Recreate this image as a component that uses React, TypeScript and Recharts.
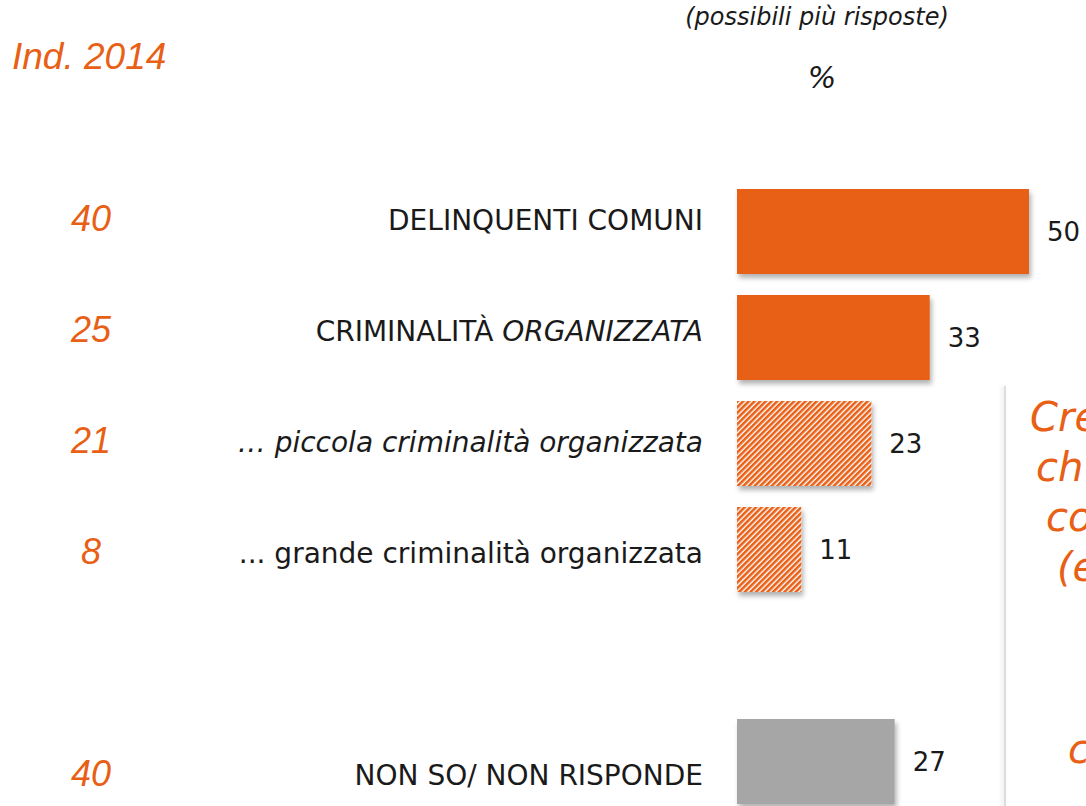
import React from 'react';
import { BarChart, Bar, XAxis, YAxis, Cell, LabelList } from 'recharts';

const categories = [
  'DELINQUENTI COMUNI',
  'CRIMINALITÀ ORGANIZZATA',
  '… piccola criminalità organizzata',
  '... grande criminalità organizzata',
  '',
  'NON SO/ NON RISPONDE',
];
const values: (number | null)[] = [50, 33, 23, 11, null, 27];
const ind2014 = ['40', '25', '21', '8', '', '40'];
const sideTextLines = ['Cre', 'ch', 'co', '(e', 'c'];

const ORANGE = '#E85F16';
const GRAY = '#A6A6A6';
const FONT = '"DejaVu Sans", sans-serif';

const data = categories.map((name, i) => ({ name, value: values[i] }));

const fills = [ORANGE, ORANGE, 'url(#stripes)', 'url(#stripes)', 'none', GRAY];
const sideLeft = [1030, 1036, 1046, 1057, 1068];
const sideTop = [392, 442, 492, 542, 724];

function CategoryTick(props: any) {
  const { y, payload } = props;
  const i = payload.index;
  const ty = 220 + (y - 231) * 1.047;
  const label: string = categories[i] || '';
  let content: React.ReactNode = label;
  let style: string = 'normal';
  if (i === 1) {
    const [first, ...rest] = label.split(' ');
    content = (
      <>
        <tspan>{first + ' '}</tspan>
        <tspan fontStyle="italic">{rest.join(' ')}</tspan>
      </>
    );
  } else if (i === 2) {
    style = 'italic';
  }
  return (
    <g>
      <text
        x={703}
        y={ty}
        dy="0.36em"
        textAnchor="end"
        fontFamily={FONT}
        fontSize={28}
        fontStyle={style}
        fill="#1a1a1a"
      >
        {content}
      </text>
      <text
        x={91}
        y={ty - 2}
        dy="0.36em"
        textAnchor="middle"
        fontFamily='"Liberation Sans", Arial, sans-serif'
        fontSize={36}
        fontStyle="italic"
        fill={ORANGE}
      >
        {ind2014[i]}
      </text>
    </g>
  );
}

function ValueLabel(props: any) {
  const { x, y, width, height, value } = props;
  if (value === null || value === undefined) return null;
  return (
    <text
      x={x + width + 18}
      y={y + height / 2}
      dy="0.36em"
      textAnchor="start"
      fontFamily={FONT}
      fontSize={26}
      fill="#1a1a1a"
    >
      {value}
    </text>
  );
}

export default function App() {
  return (
    <div
      style={{
        position: 'fixed',
        left: 0,
        top: 0,
        width: 1086,
        height: 806,
        overflow: 'hidden',
        background: '#fff',
      }}
    >
      <div
        style={{
          position: 'absolute',
          left: 817,
          top: 3,
          transform: 'translateX(-50%)',
          whiteSpace: 'nowrap',
          fontFamily: FONT,
          fontStyle: 'italic',
          fontSize: 24,
          color: '#1a1a1a',
        }}
      >
        (possibili più risposte)
      </div>
      <div
        style={{
          position: 'absolute',
          left: 822,
          top: 60,
          transform: 'translateX(-50%)',
          fontFamily: FONT,
          fontStyle: 'italic',
          fontSize: 30,
          color: '#1a1a1a',
        }}
      >
        %
      </div>
      <div
        style={{
          position: 'absolute',
          left: 12,
          top: 36,
          whiteSpace: 'nowrap',
          fontFamily: '"Liberation Sans", Arial, sans-serif',
          fontStyle: 'italic',
          fontSize: 37,
          color: ORANGE,
        }}
      >
        Ind. 2014
      </div>
      <div
        style={{
          position: 'absolute',
          left: 1004,
          top: 386,
          width: 2,
          height: 430,
          background: '#DDDDDD',
          boxShadow: '-2px 0 4px rgba(0,0,0,0.12)',
        }}
      />
      {sideTextLines.map((t, i) => (
        <div
          key={i}
          style={{
            position: 'absolute',
            left: sideLeft[i],
            top: sideTop[i],
            whiteSpace: 'nowrap',
            fontFamily: FONT,
            fontStyle: 'italic',
            fontSize: 40,
            lineHeight: '50px',
            color: ORANGE,
          }}
        >
          {t}
        </div>
      ))}
      <div style={{ position: 'absolute', left: 0, top: 0 }}>
        <BarChart
          width={1086}
          height={814}
          data={data}
          layout="vertical"
          margin={{ top: 178, right: 57, bottom: 0, left: 0 }}
        >
          <defs>
            <pattern
              id="stripes"
              width="4"
              height="4"
              patternUnits="userSpaceOnUse"
              patternTransform="rotate(45)"
            >
              <rect width="4" height="4" fill="#fff" />
              <rect width="2.6" height="4" fill={ORANGE} />
            </pattern>
            <filter id="shadow" x="-10%" y="-10%" width="130%" height="140%">
              <feDropShadow dx="2" dy="4" stdDeviation="2.5" floodColor="#000" floodOpacity="0.3" />
            </filter>
          </defs>
          <XAxis type="number" domain={[0, 50]} hide />
          <YAxis
            type="category"
            dataKey="name"
            width={737}
            axisLine={false}
            tickLine={false}
            tick={<CategoryTick />}
            interval={0}
          />
          <Bar dataKey="value" barSize={85} isAnimationActive={false}>
            {data.map((d, i) => (
              <Cell key={i} fill={fills[i]} filter="url(#shadow)" />
            ))}
            <LabelList dataKey="value" content={<ValueLabel />} />
          </Bar>
        </BarChart>
      </div>
    </div>
  );
}
